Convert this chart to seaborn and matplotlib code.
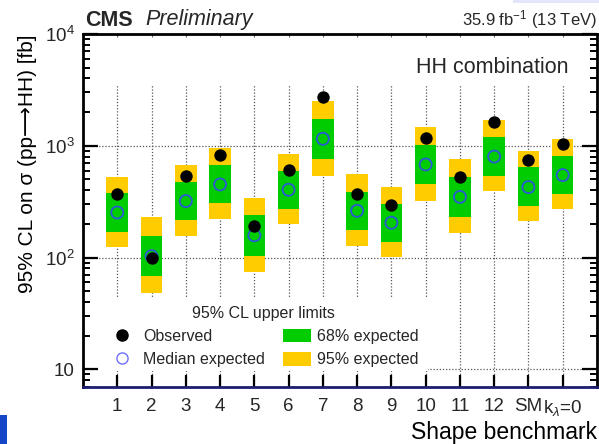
import numpy as np
import pandas as pd
import matplotlib
matplotlib.use("Agg")
import matplotlib.pyplot as plt
from matplotlib.lines import Line2D
from matplotlib.patches import Patch, Rectangle
import seaborn as sns

# Benchmark labels and 95% CL upper limits on sigma(pp->HH) in fb
labels = ["1", "2", "3", "4", "5", "6", "7", "8", "9", "10", "11", "12",
          "SM", r"k$_{\lambda}$=0"]
observed = [367, 100, 538, 826, 192, 613, 2706, 374, 298, 1179, 525, 1641, 745, 1027]
median = [253, 103, 320, 451, 158, 404, 1155, 262, 205, 680, 349, 801, 427, 547]
lo68 = [171, 68, 218, 307, 104, 271, 765, 176, 138, 454, 231, 542, 292, 374]
hi68 = [377, 156, 476, 671, 238, 597, 1734, 387, 303, 1014, 528, 1187, 640, 809]
lo95 = [124, 48, 157, 222, 75, 198, 542, 127, 101, 322, 165, 393, 213, 273]
hi95 = [531, 230, 671, 953, 344, 842, 2529, 558, 432, 1459, 760, 1698, 902, 1148]

ytick_vals = [10, 100, 1000, 10000]
ytick_labels = ["10", r"10$^{2}$", r"10$^{3}$", r"10$^{4}$"]

GREEN = "#00cc00"
YELLOW = "#ffcc00"
BLUE = "#2a5ad6"

sns.set_theme(style="ticks")
plt.rcParams["font.family"] = ["Liberation Sans", "DejaVu Sans"]
plt.rcParams["mathtext.fontset"] = "custom"
plt.rcParams["mathtext.rm"] = "Liberation Sans"
plt.rcParams["mathtext.it"] = "Liberation Sans:italic"
plt.rcParams["mathtext.bf"] = "Liberation Sans:bold"

df = pd.DataFrame({
    "pos": np.arange(1, len(labels) + 1),
    "label": labels,
    "observed": observed,
    "median": median,
    "lo68": lo68, "hi68": hi68,
    "lo95": lo95, "hi95": hi95,
})

fig = plt.figure(figsize=(5.99, 4.44), dpi=100)
ax = fig.add_axes([0.1386, 0.1284, 0.858, 0.795])
ax.set_yscale("log")
ax.set_xlim(0, 15)
ax.set_ylim(6.95, 1e4)
ax.set_axisbelow(False)

# dotted grid
ax.vlines(df["pos"], 6.95, 3500, colors="#555555", linestyles=(0, (1, 1.5)),
          linewidth=0.9, zorder=1)
ax.hlines([10, 100, 1000], 0, 15, colors="#555555", linestyles=(0, (1, 1.5)),
          linewidth=0.9, zorder=1)

# white box behind the legend
ax.add_patch(Rectangle((0.027, 0.045), 0.645, 0.21, transform=ax.transAxes,
                       facecolor="white", edgecolor="none", zorder=1.5))

width = 0.63
ax.bar(df["pos"], df["hi95"] - df["lo95"], bottom=df["lo95"], width=width,
       color=YELLOW, linewidth=0, zorder=2)
ax.bar(df["pos"], df["hi68"] - df["lo68"], bottom=df["lo68"], width=width,
       color=GREEN, linewidth=0, zorder=3)

sns.scatterplot(data=df, x="pos", y="median", ax=ax, marker="o", s=75,
                facecolor="none", edgecolor=BLUE, linewidth=1.3, zorder=4,
                legend=False)
sns.scatterplot(data=df, x="pos", y="observed", ax=ax, marker="o", s=80,
                color="black", edgecolor="black", linewidth=0, zorder=5,
                legend=False)

ax.set_xticks(df["pos"])
ax.set_xticklabels(df["label"], fontsize=13.5)
ax.set_yticks(ytick_vals)
ax.set_yticklabels(ytick_labels, fontsize=13.5)
ax.yaxis.set_minor_locator(matplotlib.ticker.LogLocator(base=10, subs=np.arange(2, 10)))
ax.yaxis.set_minor_formatter(matplotlib.ticker.NullFormatter())

ax.tick_params(axis="x", which="major", direction="in", length=9, width=1.6,
               top=False, pad=8, color="black")
ax.tick_params(axis="x", which="minor", bottom=False, top=False)
ax.tick_params(axis="y", which="major", direction="in", length=11, width=1.6,
               right=True, pad=6, color="black")
ax.tick_params(axis="y", which="minor", direction="in", length=5, width=1.4,
               right=True, color="black")
ax.xaxis.set_zorder(6)
ax.yaxis.set_zorder(6)

# tiny tick marks along the top edge
top = ax.secondary_xaxis("top")
top.set_xticks(df["pos"])
top.set_xticklabels([])
top.tick_params(direction="in", length=2.5, width=0.8, color="#666666")
top.spines["top"].set_visible(False)

for side in ["left", "right", "top"]:
    ax.spines[side].set_linewidth(2)
    ax.spines[side].set_color("black")
    ax.spines[side].set_zorder(7)
ax.spines["bottom"].set_linewidth(2)
ax.spines["bottom"].set_color("#1c1c70")
ax.spines["bottom"].set_zorder(7)

ax.set_xlabel("Shape benchmark", fontsize=16.5, ha="right", va="center")
ax.xaxis.set_label_coords(1.0, -0.130)
ax.set_ylabel("95% CL on σ (pp⟶HH) [fb]", fontsize=15, ha="right", va="center")
ax.yaxis.set_label_coords(-0.109, 1.0)
ax.xaxis.label.set_color("black")
ax.yaxis.label.set_color("black")

handles = [
    Line2D([], [], marker="o", linestyle="none", color="black", markersize=8),
    Line2D([], [], marker="o", linestyle="none", markerfacecolor="none",
           markeredgecolor="#6f6fff", markersize=8),
    Patch(facecolor=GREEN, edgecolor="none"),
    Patch(facecolor=YELLOW, edgecolor="none"),
]
names = ["Observed", "Median expected", "68% expected", "95% expected"]
leg = ax.legend(handles, names, title="95% CL upper limits", ncol=2,
                loc="upper left", bbox_to_anchor=(0.0496, 0.229),
                frameon=False, fontsize=11.5, title_fontsize=11.5,
                handlelength=1.75, handleheight=0.9, handletextpad=0.4,
                columnspacing=1.15, labelspacing=0.5, borderpad=0,
                borderaxespad=0)
leg.set_zorder(6)

ax.text(0.945, 0.906, "HH combination", transform=ax.transAxes, ha="right",
        va="center", fontsize=15.5)

fig.text(85 / 599, 1 - 20 / 444, "CMS", fontsize=15.5, fontweight="bold",
         ha="left", va="center")
fig.text(145 / 599, 1 - 20 / 444, "Preliminary", fontsize=15.5, style="italic",
         ha="left", va="center")
fig.text(597 / 599, 1 - 20 / 444, r"35.9 fb$^{-1}$ (13 TeV)", fontsize=12,
         ha="right", va="center")

# corner tabs at the image edges
fig.patches.append(Rectangle((0, 0), 7 / 599, 29 / 444, transform=fig.transFigure,
                             facecolor="#1546c8", edgecolor="none"))
fig.patches.append(Rectangle((513 / 599, 1 - 3 / 444), 86 / 599, 3 / 444,
                             transform=fig.transFigure, facecolor="#e4e4fa",
                             edgecolor="none"))

fig.savefig("out.png", dpi=100)
